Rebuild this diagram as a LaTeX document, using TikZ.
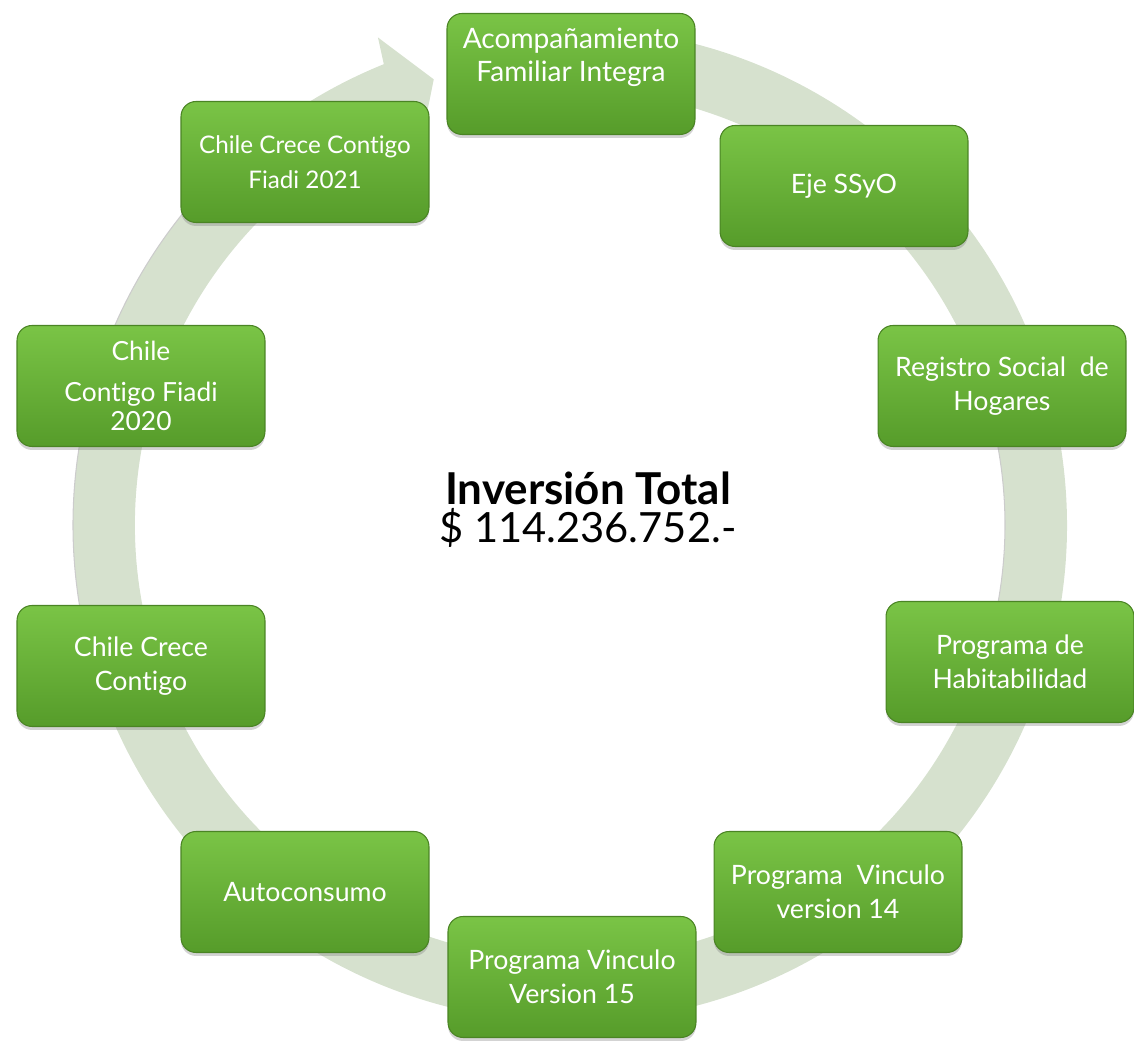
\documentclass[tikz,border=0pt]{standalone}
\usepackage{fontspec}
\setmainfont{Lato}[Ligatures={NoCommon}]
\usetikzlibrary{shadows}
\definecolor{ringc}{RGB}{214,225,206}
\definecolor{gtop}{RGB}{122,196,70}
\definecolor{gbot}{RGB}{86,156,42}
\definecolor{gedge}{RGB}{74,132,36}
\begin{document}
\begin{tikzpicture}[x=0.02cm,y=0.02cm,
 box/.style={rounded corners=0.3cm, minimum width=4.96cm, minimum height=2.42cm,
   top color=gtop, bottom color=gbot, draw=gedge, line width=0.6pt,
   drop shadow={opacity=0.35,shadow xshift=0cm,shadow yshift=-0.07cm},
   text=white, align=center, font=\fontsize{15.2}{19.5}\selectfont, inner sep=2pt},
 lbl/.style={text=white, align=center, font=\fontsize{16}{18.7}\selectfont, inner sep=0pt},
 ctr/.style={text=black, inner sep=0pt, anchor=base}]
\useasboundingbox (0,0) rectangle (1134,1041);
% ring with arrow head
\begin{scope}[shift={(570,516)}]
\fill[ringc] (95:497) arc[start angle=95, end angle=-248, radius=497]
  -- (-248.5:524) -- (-253:466) -- (-248.5:408) -- (-248:435)
  arc[start angle=-248, end angle=95, radius=435] -- cycle;
\draw[black!20, line width=0.6pt] (200:497) arc[start angle=200, end angle=140, radius=497];
\draw[black!20, line width=0.6pt] (-20:435) arc[start angle=-20, end angle=20, radius=435];
\end{scope}
% boxes
\node[box] (b1) at (571,967) {};
\node[lbl] (t1) at (571,984) {Acompañamiento\\Familiar Integra};
\node[box] (b2) at (844,855) {Eje SSyO};
\node[box] (b3) at (1002,655) {Registro Social\ \ de\\Hogares};
\node[box] (b4) at (1010,379) {Programa de\\Habitabilidad};
\node[box] (b5) at (838,149) {Programa\ \ Vinculo\\version 14};
\node[box] (b6) at (572,64) {Programa Vinculo\\Version 15};
\node[box] (b7) at (305,149) {Autoconsumo};
\node[box] (b8) at (141,375) {Chile Crece\\Contigo};
\node[box, font=\fontsize{15}{16.4}\selectfont] (b9) at (141,655) {Chile\\[6.8pt]Contigo Fiadi\\2020};
\node[box, font=\fontsize{13.8}{19.8}\selectfont] (b10) at (305,879) {Chile Crece Contigo\\Fiadi 2021};
% center text
\node[ctr, font=\fontsize{25}{25}\selectfont\bfseries] (c1) at (588,536) {Inversión Total};
\node[ctr, font=\fontsize{23.7}{23.7}\selectfont] (c2) at (588,498) {\$ 114.236.752.-};
\end{tikzpicture}
\end{document}
